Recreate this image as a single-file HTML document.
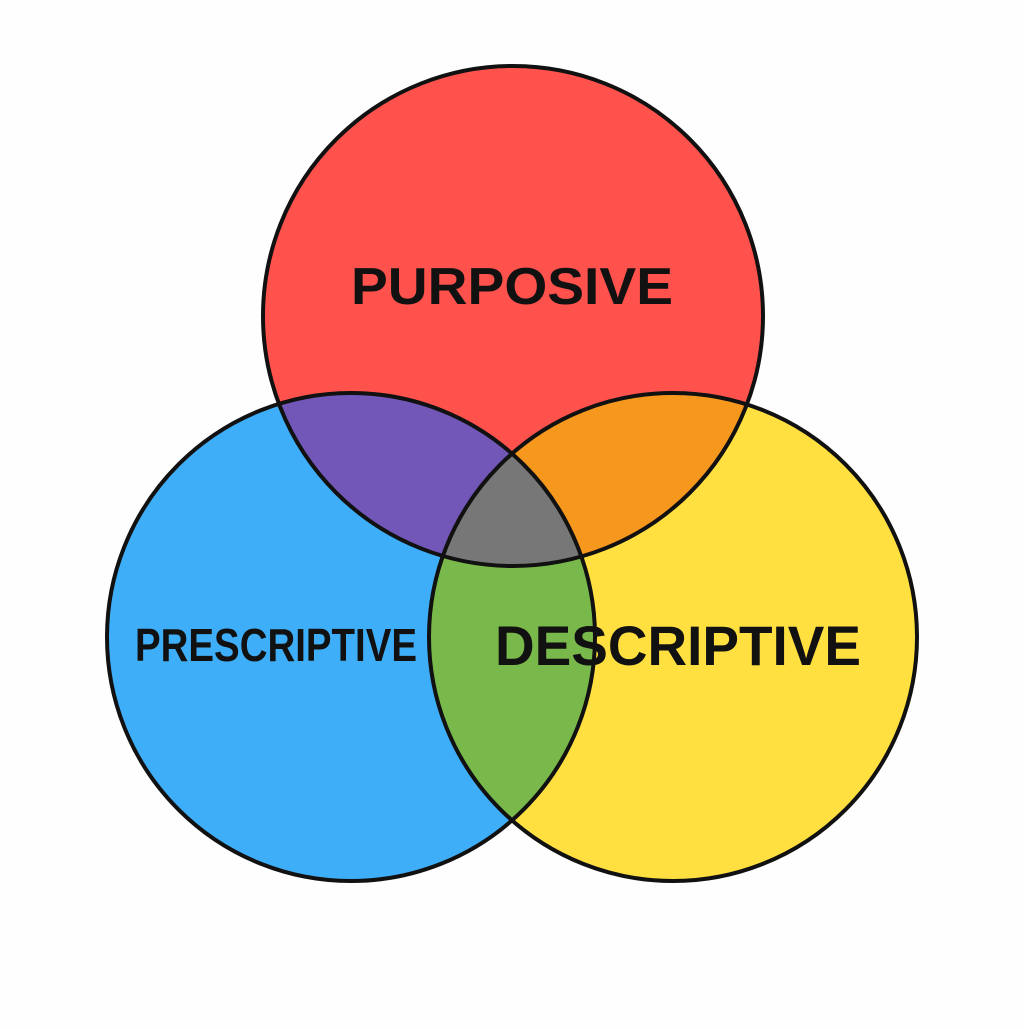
<!DOCTYPE html>
<html><head><meta charset="utf-8"><style>html,body{margin:0;padding:0;background:#fefefe}</style></head>
<body>
<svg width="1024" height="1024" viewBox="0 0 1024 1024" xmlns="http://www.w3.org/2000/svg">
<defs>
<clipPath id="cT"><circle cx="513" cy="316" r="250"/></clipPath>
<clipPath id="cL"><circle cx="351" cy="637" r="244"/></clipPath>
<clipPath id="cR"><circle cx="673" cy="637" r="244"/></clipPath>
</defs>
<rect width="1024" height="1024" fill="#fefefe"/>
<circle cx="513" cy="316" r="250" fill="#FF524D"/>
<circle cx="351" cy="637" r="244" fill="#3FAEF8"/>
<circle cx="673" cy="637" r="244" fill="#FFE040"/>
<g clip-path="url(#cT)"><circle cx="351" cy="637" r="244" fill="#7257B8"/><circle cx="673" cy="637" r="244" fill="#F7981E"/></g>
<g clip-path="url(#cL)"><circle cx="673" cy="637" r="244" fill="#79B84A"/></g>
<g clip-path="url(#cT)"><g clip-path="url(#cL)"><circle cx="673" cy="637" r="244" fill="#777777"/></g></g>
<g fill="none" stroke="#111" stroke-width="4">
<circle cx="513" cy="316" r="250"/>
<circle cx="351" cy="637" r="244"/>
<circle cx="673" cy="637" r="244"/>
</g>
<g font-family="Liberation Sans, sans-serif" font-weight="bold" fill="#111" text-anchor="middle">
<text x="512" y="304" font-size="52" textLength="322" lengthAdjust="spacingAndGlyphs">PURPOSIVE</text>
<text x="276" y="661" font-size="46" textLength="282" lengthAdjust="spacingAndGlyphs">PRESCRIPTIVE</text>
<text x="678" y="665" font-size="56" textLength="366" lengthAdjust="spacingAndGlyphs">DESCRIPTIVE</text>
</g>
</svg>
</body></html>
